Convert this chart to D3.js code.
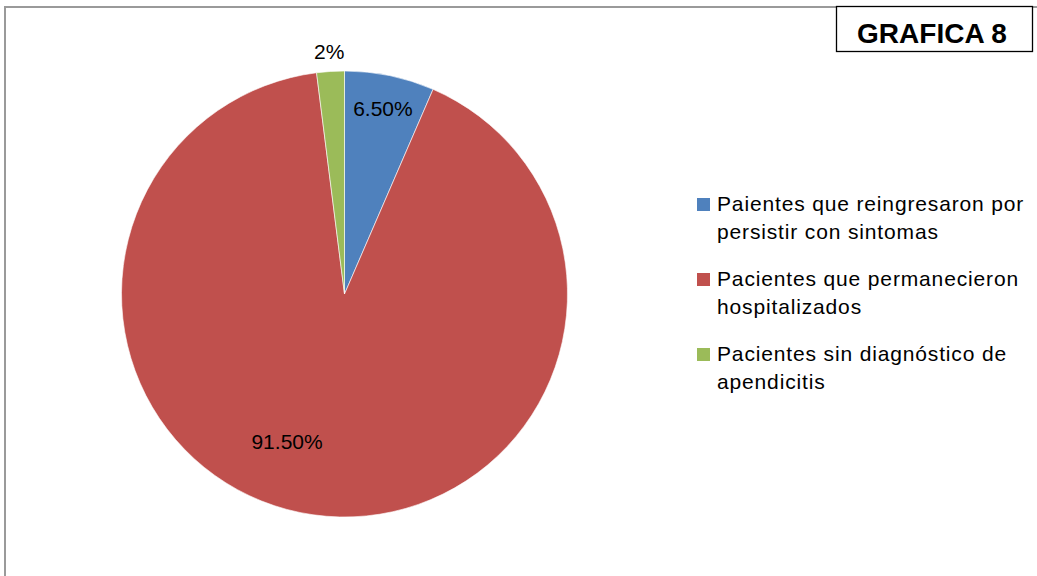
<!DOCTYPE html>
<html>
<head>
<meta charset="utf-8">
<script src="https://cdn.jsdelivr.net/npm/d3@7"></script>
<style>
  html, body { margin: 0; padding: 0; background: #fff; }
  svg { display: block; }
</style>
</head>
<body>
<svg id="chart" width="1037" height="576"></svg>
<script>
// Share of patients by outcome (percent)
const categories = [
  "Paientes que reingresaron por persistir con sintomas",
  "Pacientes que permanecieron hospitalizados",
  "Pacientes sin diagnóstico de apendicitis"
];
const legendLines = [
  ["Paientes que reingresaron por", "persistir con sintomas"],
  ["Pacientes que permanecieron", "hospitalizados"],
  ["Pacientes sin diagnóstico de", "apendicitis"]
];
const values = [6.5, 91.5, 2];
const valueLabels = ["6.50%", "91.50%", "2%"];
const colors = ["#4F81BD", "#C0504D", "#9BBB59"];
const title = "GRAFICA 8";

const svg = d3.select("#chart");
const labelFont = "'Liberation Sans', Arial, sans-serif";

// chart area frame (left and top edges visible)
svg.append("rect")
  .attr("x", 5).attr("y", 7)
  .attr("width", 1100).attr("height", 700)
  .attr("fill", "none")
  .attr("stroke", "#9a9a9a")
  .attr("stroke-width", 2);

// title box
const tb = svg.append("g");
tb.append("rect")
  .attr("x", 836.5).attr("y", 6.5)
  .attr("width", 196).attr("height", 45)
  .attr("fill", "#fff")
  .attr("stroke", "#000")
  .attr("stroke-width", 1.3);
tb.append("text")
  .attr("x", 932).attr("y", 43)
  .attr("text-anchor", "middle")
  .attr("font-family", "'Liberation Sans', Arial, sans-serif")
  .attr("font-weight", "bold")
  .attr("font-size", 28)
  .attr("fill", "#000")
  .text(title);

// pie
const cx = 344.5, cy = 294, r = 223;
const pie = d3.pie().sort(null).value(d => d)(values);
const arc = d3.arc().innerRadius(0).outerRadius(r);

const g = svg.append("g").attr("transform", `translate(${cx},${cy})`);
g.selectAll("path.slice")
  .data(pie)
  .join("path")
  .attr("class", "slice")
  .attr("d", arc)
  .attr("fill", (d, i) => colors[i])
  .attr("stroke", "#fff")
  .attr("stroke-width", 0.6);

// data label placement: radius factor and angular shift (radians) per slice
const labelRadius = [0.85, 0.71, 1.088];
const labelShift = [0, 0.23, 0];
g.selectAll("text.val")
  .data(pie)
  .join("text")
  .attr("class", "val")
  .attr("transform", (d, i) => {
    const a = (d.startAngle + d.endAngle) / 2 + labelShift[i];
    const rr = r * labelRadius[i];
    return `translate(${rr * Math.sin(a)},${-rr * Math.cos(a)})`;
  })
  .attr("text-anchor", "middle")
  .attr("dy", "0.36em")
  .attr("font-family", labelFont)
  .attr("font-size", 21)
  .attr("fill", "#000")
  .text((d, i) => valueLabels[i]);

// legend
const lg = svg.append("g").attr("transform", "translate(697,198)");
const entry = lg.selectAll("g.entry")
  .data(categories)
  .join("g")
  .attr("class", "entry")
  .attr("transform", (d, i) => `translate(0,${i * 75})`);
entry.append("rect")
  .attr("width", 13).attr("height", 13)
  .attr("fill", (d, i) => colors[i]);
entry.each(function(d, i) {
  const t = d3.select(this).append("text")
    .attr("font-family", labelFont)
    .attr("font-size", 21)
    .attr("letter-spacing", 0.85)
    .attr("fill", "#000");
  legendLines[i].forEach((line, j) => {
    t.append("tspan").attr("x", 20).attr("y", 13 + j * 28).text(line);
  });
});
</script>
</body>
</html>
